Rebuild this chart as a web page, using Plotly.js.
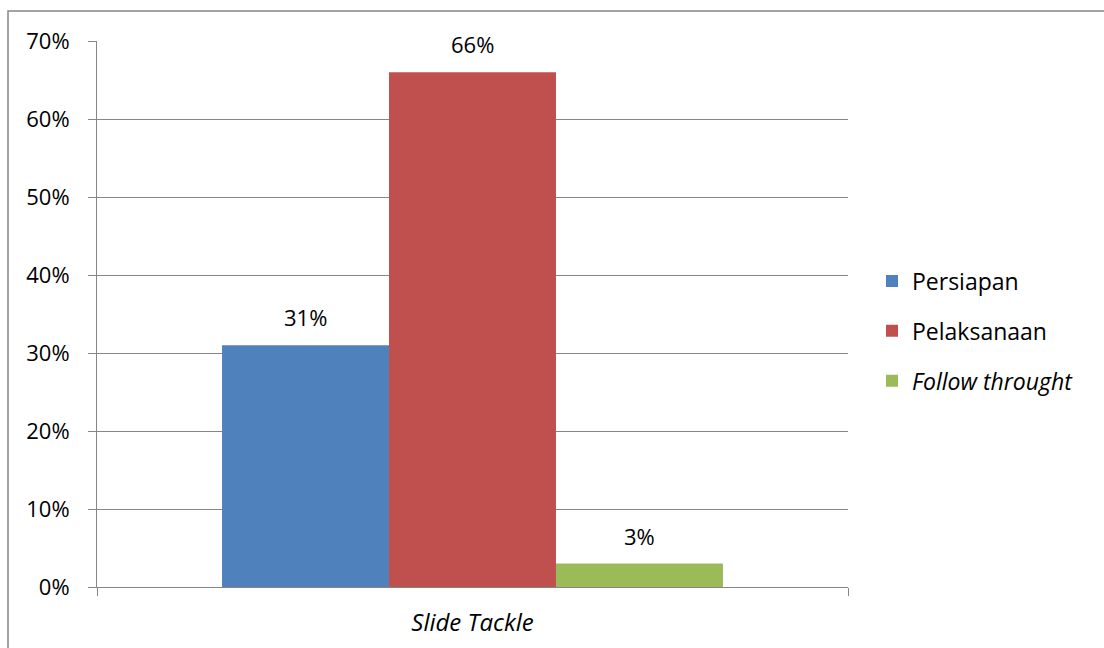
<!DOCTYPE html>
<html>
<head>
<meta charset="utf-8">
<script src="https://cdn.plot.ly/plotly-3.0.1.min.js"></script>
<style>html,body{margin:0;padding:0;background:#fff;}#chart{width:1104px;height:648px;}</style>
</head>
<body>
<div id="chart"></div>
<script>
const categories = ['<i>Slide Tackle</i>'];
const seriesNames = ['Persiapan', 'Pelaksanaan', '<i>Follow throught</i>'];
const persiapan = [0.31];
const pelaksanaan = [0.66];
const followThrought = [0.03];
const colors = ['#4F81BD', '#C0504D', '#9BBB59'];
const seriesValues = [persiapan, pelaksanaan, followThrought];

const FONT = 'Open Sans, Noto Sans, sans-serif';
const BARGAP = 0.333;

const traces = seriesValues.map((vals, i) => ({
  type: 'bar',
  name: seriesNames[i],
  legendgroup: 'g' + i,
  x: categories,
  y: vals,
  marker: {color: colors[i], line: {width: 0}},
  hoverinfo: 'none'
}));

// value labels placed above each bar (group offsets derived from bargap)
const groupW = 1 - BARGAP;
const barW = groupW / seriesValues.length;
const annotations = [];
seriesValues.forEach((vals, i) => {
  vals.forEach((v, c) => {
    annotations.push({
      xref: 'x', yref: 'y',
      x: c - groupW / 2 + barW * (i + 0.5),
      y: v,
      text: Math.round(v * 100) + '%',
      showarrow: false,
      xanchor: 'center', yanchor: 'bottom',
      yshift: 11,
      font: {family: FONT, size: 22, color: '#000'}
    });
  });
});

const L = 97, R = 256, T = 41, B = 61;
const W = 1104 - L - R, H = 648 - T - B;

const layout = {
  width: 1104, height: 648,
  margin: {l: L, r: R, t: T, b: B, pad: 0},
  paper_bgcolor: '#fff', plot_bgcolor: '#fff',
  font: {family: FONT, size: 22, color: '#000'},
  barmode: 'group',
  bargap: BARGAP,
  bargroupgap: 0,
  showlegend: true,
  legend: {
    x: (872 - L) / W, xanchor: 'left',
    y: (587 - 331) / H, yanchor: 'middle',
    font: {family: FONT, size: 23, color: '#000'},
    traceorder: 'grouped',
    tracegroupgap: 17, itemwidth: 30,
    bgcolor: 'rgba(0,0,0,0)'
  },
  xaxis: {
    type: 'category',
    showline: true, linecolor: '#868686', linewidth: 1,
    ticks: 'outside', tickson: 'boundaries', ticklen: 8, tickcolor: '#868686',
    showgrid: false, zeroline: false,
    ticklabelstandoff: 14,
    tickfont: {family: FONT, size: 24, color: '#000'}
  },
  yaxis: {
    range: [0, 0.7], dtick: 0.1, tickformat: '.0%',
    showline: true, linecolor: '#868686', linewidth: 1,
    ticks: 'outside', ticklen: 8, tickcolor: '#868686',
    showgrid: true, gridcolor: '#868686', gridwidth: 1,
    zeroline: false,
    ticklabelstandoff: 14,
    tickfont: {family: FONT, size: 22, color: '#000'}
  },
  annotations: annotations,
  shapes: [{
    type: 'rect', xref: 'paper', yref: 'paper',
    x0: (8 - L) / W, x1: (1120 - L) / W,
    y0: (587 - 660) / H, y1: (587 - 11) / H,
    line: {color: '#868686', width: 1.5}, fillcolor: 'rgba(0,0,0,0)', layer: 'below'
  }]
};

Plotly.newPlot('chart', traces, layout, {displayModeBar: false, staticPlot: true});
</script>
</body>
</html>
